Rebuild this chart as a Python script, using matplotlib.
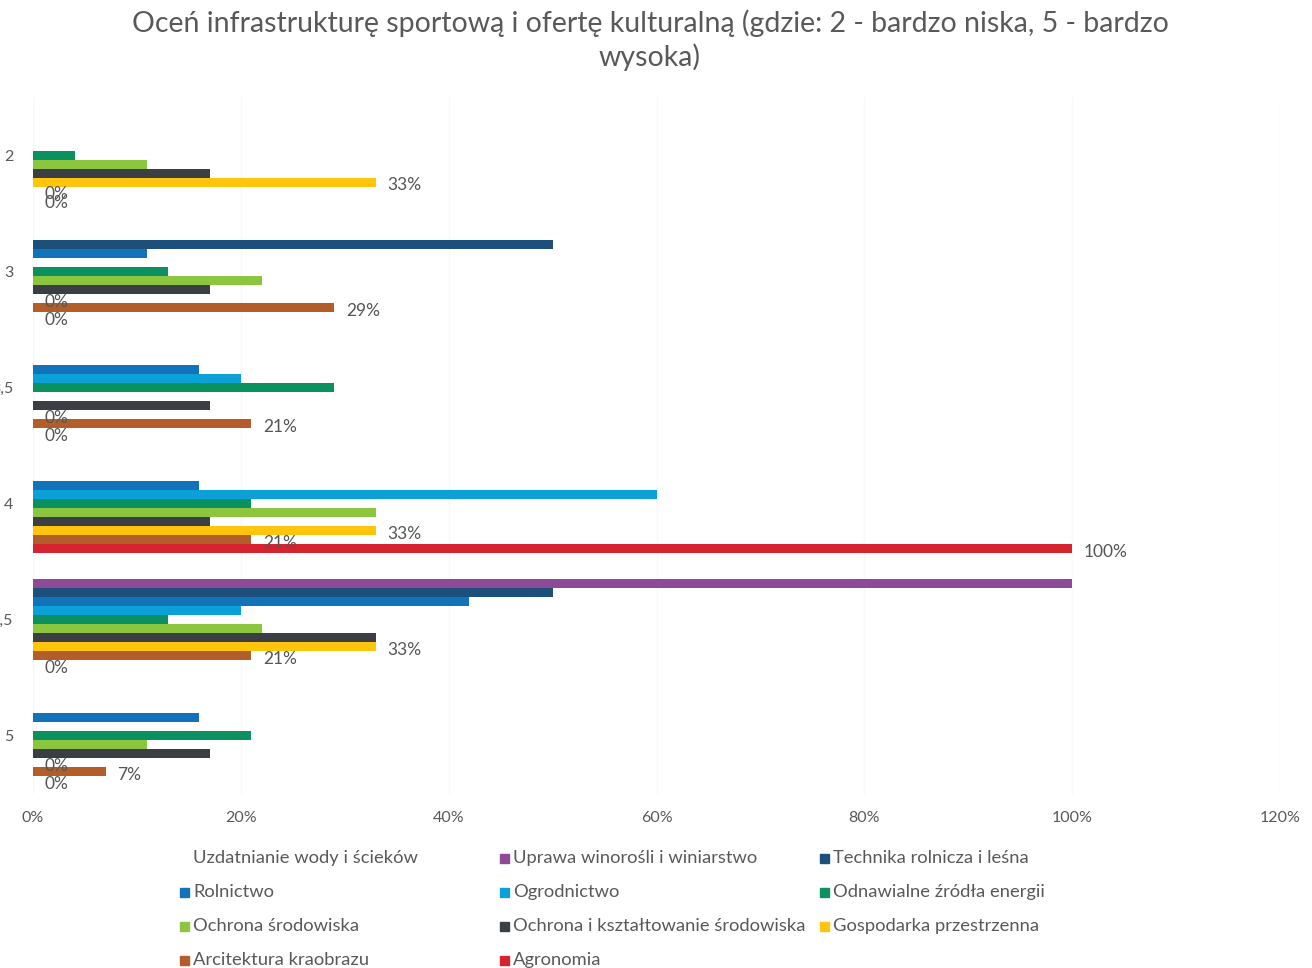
import matplotlib.pyplot as plt
import matplotlib.patches as mpatches
import numpy as np

plt.rcParams['font.family'] = ['Lato', 'DejaVu Sans']

categories = ["2", "3", "3,5", "4", "4,5", "5"]

series_names = [
    "Uzdatnianie wody i ścieków",
    "Uprawa winorośli i winiarstwo",
    "Technika rolnicza i leśna",
    "Rolnictwo",
    "Ogrodnictwo",
    "Odnawialne źródła energii",
    "Ochrona środowiska",
    "Ochrona i kształtowanie środowiska",
    "Gospodarka przestrzenna",
    "Arcitektura kraobrazu",
    "Agronomia",
]

# values in % for categories 2, 3, 3.5, 4, 4.5, 5
uzdatnianie = [0, 0, 0, 0, 0, 0]
uprawa = [0, 0, 0, 0, 100, 0]
technika = [0, 50, 0, 0, 50, 0]
rolnictwo = [0, 11, 16, 16, 42, 16]
ogrodnictwo = [0, 0, 20, 60, 20, 0]
odnawialne = [4, 13, 29, 21, 13, 21]
ochrona_sr = [11, 22, 0, 33, 22, 11]
ochrona_ksz = [17, 17, 17, 17, 33, 17]
gospodarka = [33, 0, 0, 33, 33, 0]
architektura = [0, 29, 21, 21, 21, 7]
agronomia = [0, 0, 0, 100, 0, 0]

values = [uzdatnianie, uprawa, technika, rolnictwo, ogrodnictwo, odnawialne,
          ochrona_sr, ochrona_ksz, gospodarka, architektura, agronomia]

colors = ["#FFFFFF", "#8E4A97", "#1D4F7B", "#1273BA", "#0CA0D8", "#0B9160",
          "#8CC63F", "#3B3F43", "#FFC40C", "#B35E2A", "#D62330"]

labeled = {8, 9, 10}  # series with data labels

fig = plt.figure(figsize=(13.12, 9.68), dpi=100)
ax = fig.add_axes([33 / 1312, 1 - 794 / 968, (1280 - 33) / 1312, (794 - 97) / 968])

y = np.arange(len(categories))
n = len(series_names)
h = 0.85 / n
for i, (name, vals, c) in enumerate(zip(series_names, values, colors)):
    pos = y + (i - (n - 1) / 2) * h
    ax.barh(pos, vals, height=h, color=c, label=name, zorder=2)
    if i in labeled:
        for p, v in zip(pos, vals):
            ax.annotate(f"{v}%", (v, p), xytext=(8.5, -2.5), textcoords="offset points",
                        va="center", ha="left", fontsize=12.5, color="#555555")

ax.set_xlim(0, 120)
ax.set_ylim(len(categories) - 0.5, -0.5)
ax.set_xticks(np.arange(0, 121, 20))
ax.set_xticklabels([f"{t}%" for t in range(0, 121, 20)])
ax.set_yticks(y)
ax.set_yticklabels(categories)
ax.tick_params(axis="both", length=0, labelsize=11.5, labelcolor="#595959")
ax.tick_params(axis="y", pad=14)
ax.tick_params(axis="x", pad=12)
for s in ax.spines.values():
    s.set_visible(False)
ax.grid(axis="x", color="#F8F8F8", linewidth=1, zorder=0)

fig.text(650 / 1312, 1 - 40 / 968,
         "Oceń infrastrukturę sportową i ofertę kulturalną (gdzie: 2 - bardzo niska, 5 - bardzo\nwysoka)",
         ha="center", va="center", fontsize=20.5, color="#595959", linespacing=1.3)

# legend laid out in fixed columns
col_x = [180, 500, 820]
row_y = [858, 892, 926, 960]
for i, (name, c) in enumerate(zip(series_names, colors)):
    cx = col_x[i % 3]
    ry = row_y[i // 3]
    fig.patches.append(mpatches.Rectangle((cx / 1312, 1 - (ry + 5) / 968), 9 / 1312, 9 / 968,
                                          transform=fig.transFigure, color=c, figure=fig))
    fig.text((cx + 13) / 1312, 1 - ry / 968, name, ha="left", va="center",
             fontsize=13.2, color="#595959")

fig.savefig("out.png", dpi=100, facecolor="white")
